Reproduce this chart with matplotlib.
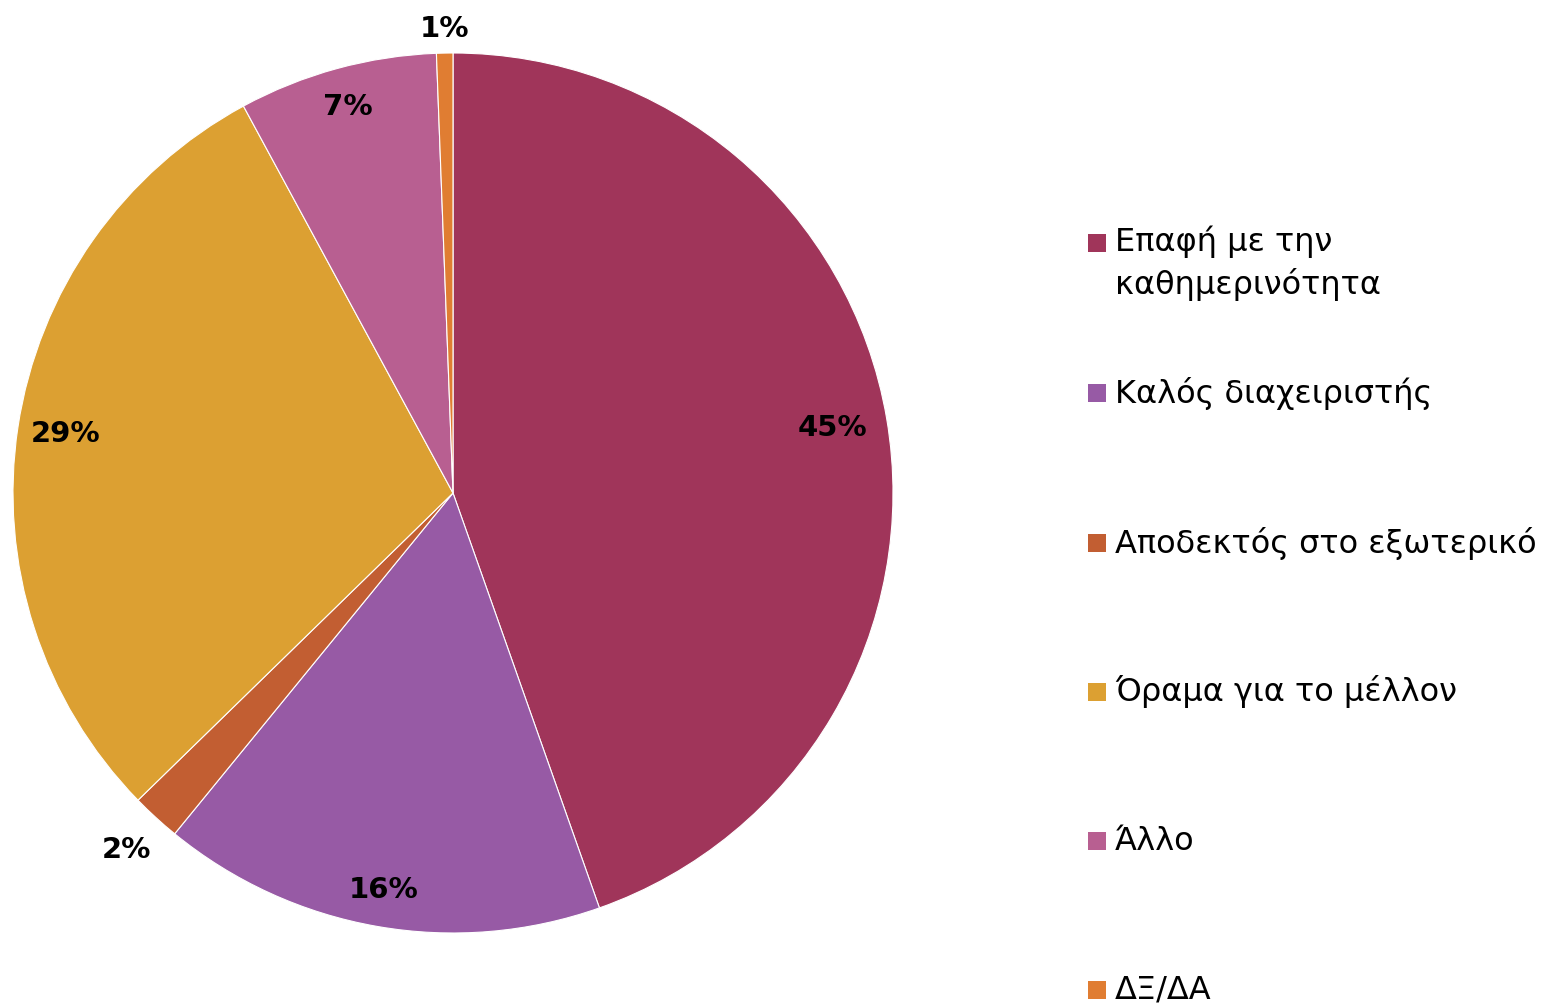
import numpy as np
import matplotlib.pyplot as plt
from matplotlib.patches import Rectangle

labels = ["Επαφή με την\nκαθημερινότητα", "Καλός διαχειριστής", "Αποδεκτός στο εξωτερικό",
          "Όραμα για το μέλλον", "Άλλο", "ΔΞ/ΔΑ"]
shares = [44.6, 16.3, 1.8, 29.4, 7.3, 0.6]
colours = ["#A0355A", "#975AA5", "#C25E32", "#DCA032", "#B85F91", "#E07D32"]
# radial position of each percentage label (fraction of radius)
label_dist = [0.875, 0.915, 1.1, 0.89, 0.91, 1.055]

plt.rcParams["font.family"] = ["DejaVu Sans"]

W, H = 1548, 1007
fig = plt.figure(figsize=(W / 100, H / 100), dpi=100)

# pie centre (453, 493) px, radius 440 px
cx, cy, r = 453, 493, 440
ax = fig.add_axes([(cx - r) / W, (H - cy - r) / H, 2 * r / W, 2 * r / H])
wedges, _ = ax.pie(shares, colors=colours, startangle=90, counterclock=False,
                   wedgeprops=dict(linewidth=0.8, edgecolor="white"))
ax.set_xlim(-1, 1)
ax.set_ylim(-1, 1)
ax.set_aspect("equal")
ax.axis("off")

for w, v, d in zip(wedges, shares, label_dist):
    mid = np.deg2rad((w.theta1 + w.theta2) / 2)
    ax.text(d * np.cos(mid), d * np.sin(mid), f"{v:.0f}%",
            ha="center", va="center", fontsize=21, fontweight="bold")

# legend drawn by hand
ys = [243, 393, 543, 692, 841, 990]
for lab, col, y in zip(labels, colours, ys):
    fig.patches.append(Rectangle((1088 / W, (H - y - 9) / H), 18 / W, 18 / H,
                                 transform=fig.transFigure, facecolor=col, edgecolor="none"))
    if "\n" in lab:
        fig.text(1115 / W, (H - y + 17) / H, lab, ha="left", va="top",
                 fontsize=23, linespacing=1.38)
    else:
        fig.text(1115 / W, (H - y) / H, lab, ha="left", va="center", fontsize=23)

fig.savefig("out.png", dpi=100)
